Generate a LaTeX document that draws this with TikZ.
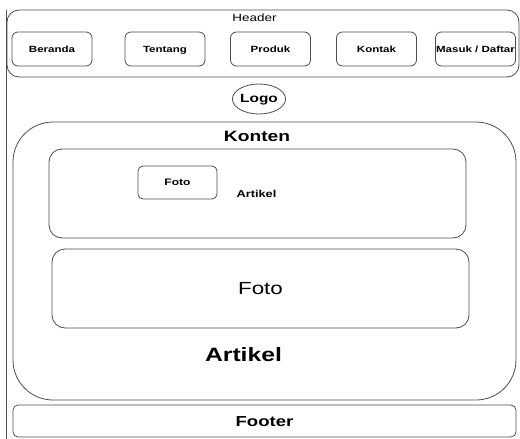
\documentclass[tikz,border=0pt]{standalone}
\usepackage{fontspec}
\setmainfont[FakeStretch=1.28]{Liberation Sans}
\usetikzlibrary{shapes.geometric}
\definecolor{edge}{gray}{0.3}
\tikzset{
  box/.style={draw=edge, line width=0.8pt, rounded corners=#1},
  box/.default=6pt,
  btn/.style={draw=edge, line width=0.8pt, rounded corners=6pt, minimum width=80pt, minimum height=34pt, inner sep=0pt, text height=0.72em, text depth=0.1em, font=\fontsize{9}{10}\selectfont\bfseries},
  lbl/.style={inner sep=0pt, text=black},
}
\begin{document}
\begin{tikzpicture}[x=1pt,y=-1pt]
\useasboundingbox (0,0) rectangle (520,439);
% page frame left edge
\coordinate (ftop) at (6,10);
\coordinate (fbot) at (6,439);
\draw[edge, line width=0.8pt] (ftop) -- (fbot);
% header
\draw[box=12pt] (7,10) rectangle (519,77);
\node[lbl, font=\fontsize{10.5}{12}\selectfont] (header) at (254.5,18) {Header};
\node[btn] (beranda) at (52,49) {Beranda};
\node[btn] (tentang) at (165,49) {Tentang};
\node[btn] (produk) at (270.5,49) {Produk};
\node[btn] (kontak) at (376.5,49) {Kontak};
\node[btn] (masuk) at (475.5,49) {Masuk / Daftar};
% logo
\node[draw=edge, line width=0.8pt, ellipse, minimum width=52pt, minimum height=30pt, inner sep=0pt, text height=0.72em, text depth=0.1em, font=\fontsize{12}{14}\selectfont\bfseries] (logo) at (259,99) {Logo};
% konten
\draw[box=40pt] (13,122) rectangle (516,400);
\node[lbl, font=\fontsize{15}{16}\selectfont\bfseries] (konten) at (257,136) {Konten};
% inner box 1
\draw[box=13pt] (49,149) rectangle (466,238);
\node[draw=edge, line width=0.8pt, rounded corners=5pt, minimum width=79pt, minimum height=33pt, inner sep=0pt, font=\fontsize{9.4}{10}\selectfont\bfseries] (foto1) at (177.5,182.5) {Foto};
\node[lbl, font=\fontsize{10}{11}\selectfont\bfseries] (art1) at (256.5,194) {Artikel};
% inner box 2
\draw[box=13pt] (52,249) rectangle (469,328);
\node[lbl, font=\fontsize{17.5}{20}\selectfont] (foto2) at (260.5,289) {Foto};
% big artikel
\node[lbl, font=\fontsize{19.3}{21}\selectfont\bfseries] (art2) at (243.5,355) {Artikel};
% footer
\draw[box=5pt] (13,405) rectangle (516,437);
\node[lbl, font=\fontsize{14.5}{16}\selectfont\bfseries] (footer) at (264.5,422) {Footer};
\end{tikzpicture}
\end{document}
